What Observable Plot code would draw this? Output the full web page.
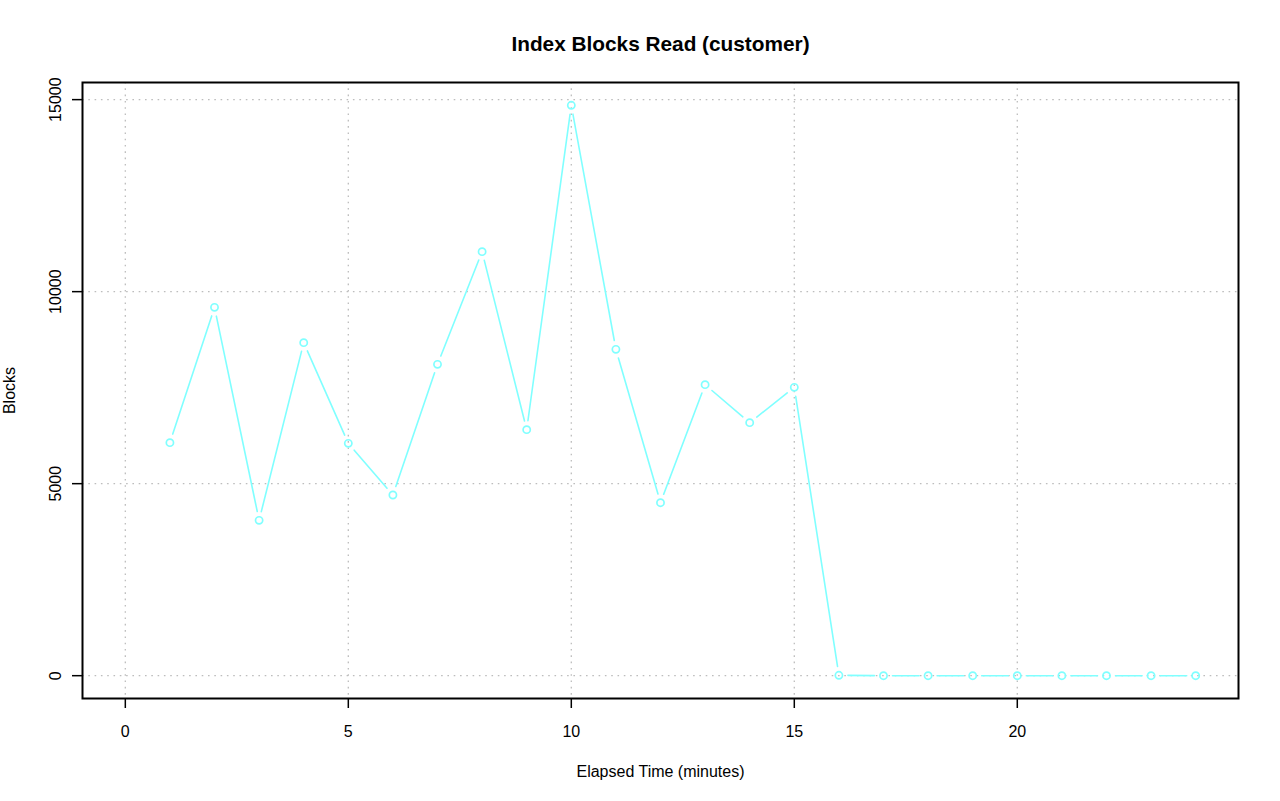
<!DOCTYPE html>
<html>
<head>
<meta charset="utf-8">
<script src="https://cdn.jsdelivr.net/npm/d3@7"></script>
<script src="https://cdn.jsdelivr.net/npm/@observablehq/plot@0.6"></script>
<style>
  html, body { margin: 0; padding: 0; background: #fff; }
  #chart svg { display: block; }
</style>
</head>
<body>
<div id="chart"></div>
<script>
const title = "Index Blocks Read (customer)";
const xLabel = "Elapsed Time (minutes)";
const yLabel = "Blocks";
const minutes = [1, 2, 3, 4, 5, 6, 7, 8, 9, 10, 11, 12, 13, 14, 15, 16, 17, 18, 19, 20, 21, 22, 23, 24];
const blocks = [6068, 9591, 4045, 8672, 6050, 4705, 8107, 11042, 6406, 14852, 8497, 4505, 7578, 6589, 7508, 10, 0, 0, 0, 0, 0, 0, 0, 0];
const xTicks = [0, 5, 10, 15, 20];
const yTicks = [0, 5000, 10000, 15000];

const lineColor = "#80ffff";
const font = "'Liberation Sans', Arial, Helvetica, sans-serif";

const points = minutes.map((m, i) => ({x: m, y: blocks[i]}));
const segments = minutes.slice(1).map((m, i) => ({x1: minutes[i], y1: blocks[i], x2: m, y2: blocks[i + 1]}));

// R-style 4% axis extension
const xMin = 0, xMax = d3.max(minutes);
const yMin = 0, yMax = d3.max(blocks);
const xPad = (xMax - xMin) * 0.04, yPad = (yMax - yMin) * 0.04;

const chart = Plot.plot({
  width: 1280,
  height: 801,
  marginTop: 82,
  marginRight: 42,
  marginBottom: 103,
  marginLeft: 82,
  style: {fontFamily: font, fontSize: "16px", background: "#fff", color: "#000"},
  x: {domain: [xMin - xPad, xMax + xPad]},
  y: {domain: [yMin - yPad, yMax + yPad]},
  marks: [
    Plot.gridX(xTicks, {stroke: "#bdbdbd", strokeOpacity: 1, strokeWidth: 1.3, strokeDasharray: "1.6,4.7"}),
    Plot.gridY(yTicks, {stroke: "#bdbdbd", strokeOpacity: 1, strokeWidth: 1.3, strokeDasharray: "1.6,4.7"}),
    Plot.axisX(xTicks, {tickSize: 10, tickFormat: () => "", label: null, stroke: "#000", strokeWidth: 1.5}),
    Plot.axisY(yTicks, {tickSize: 10, tickFormat: () => "", label: null, stroke: "#000", strokeWidth: 1.5}),
    Plot.text(xTicks, {x: d => d, frameAnchor: "bottom", dy: 32.9, text: d => String(d), fontSize: 16, fill: "#000", lineAnchor: "middle"}),
    Plot.text(yTicks, {y: d => d, frameAnchor: "left", dx: -27.1, rotate: -90, text: d => String(d), fontSize: 16, fill: "#000", textAnchor: "middle", lineAnchor: "middle"}),
    Plot.text([xLabel], {frameAnchor: "bottom", dy: 73.4, text: d => d, fontSize: 16, fill: "#000", lineAnchor: "middle"}),
    Plot.text([yLabel], {frameAnchor: "left", dx: -73.1, rotate: -90, text: d => d, fontSize: 16, fill: "#000", textAnchor: "middle", lineAnchor: "middle"}),
    Plot.text([title], {frameAnchor: "top", dy: -37.7, text: d => d, fontSize: 20.8, fontWeight: "bold", fill: "#000", lineAnchor: "middle"}),
    Plot.arrow(segments, {x1: "x1", y1: "y1", x2: "x2", y2: "y2", inset: 9, headLength: 0, stroke: lineColor, strokeWidth: 1.6}),
    Plot.dot(points, {x: "x", y: "y", r: 3.6, stroke: lineColor, strokeWidth: 1.7, fill: "none"}),
    Plot.frame({stroke: "#000", strokeWidth: 2})
  ]
});
document.getElementById("chart").appendChild(chart);
</script>
</body>
</html>
